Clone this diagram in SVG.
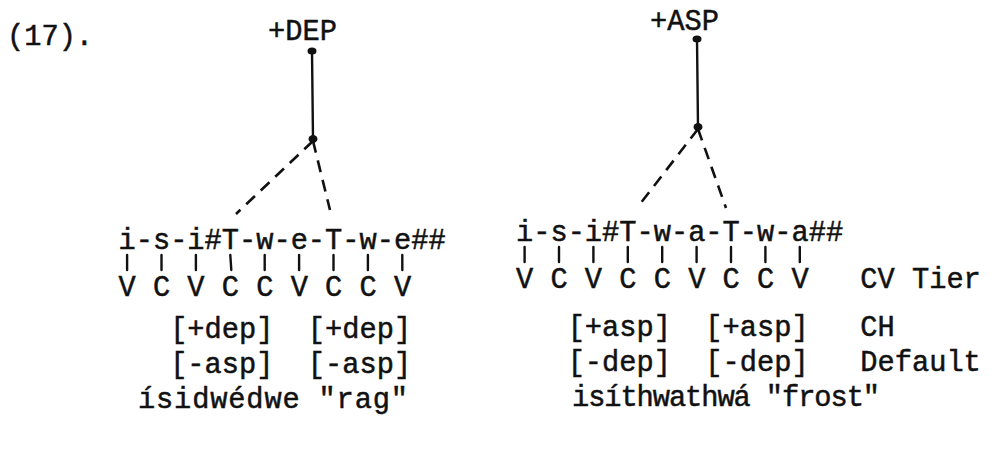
<svg xmlns="http://www.w3.org/2000/svg" width="998" height="464" viewBox="0 0 998 464">
<style>
text { font-family: "Liberation Mono", "DejaVu Sans Mono", monospace; font-size: 28.7px; fill: #111; stroke: #111; stroke-width: 0.5; white-space: pre; }
.ln { stroke: #111; stroke-width: 2.4; fill: none; stroke-linecap: round; }
.dash { stroke: #111; stroke-width: 2.6; fill: none; stroke-dasharray: 12 8; }
.dot { fill: #111; }
</style>
<rect width="998" height="464" fill="#fff"/>
<text id="label" x="7" y="45">(17).</text>

<g id="dep-tree">
  <g id="dep-root"><text x="268" y="40">+DEP</text></g>
  <g id="dep-top"><ellipse class="dot" cx="312" cy="51" rx="4.5" ry="3.5"/></g>
  <g id="dep-node"><ellipse class="dot" cx="313" cy="139" rx="4.5" ry="4"/></g>
  <g id="dep-segments"><text x="118.5" y="249">i-s-i#T-w-e-T-w-e##</text></g>
  <g id="dep-cv"><text x="118.5" y="296">V C V C C V C C V</text></g>
  <g id="dep-ch"><text x="118.5" y="338">   [+dep]  [+dep]</text></g>
  <g id="dep-default"><text x="118.5" y="373">   [-asp]  [-asp]</text></g>
  <g id="dep-gloss"><text x="138" y="408" textLength="270" lengthAdjust="spacing">ísidwédwe "rag"</text></g>
</g>

<g id="asp-tree">
  <g id="asp-root"><text x="650" y="30">+ASP</text></g>
  <g id="asp-top"><ellipse class="dot" cx="697" cy="39" rx="4.5" ry="3.5"/></g>
  <g id="asp-node"><ellipse class="dot" cx="698" cy="127" rx="4.5" ry="4"/></g>
  <g id="asp-segments"><text x="516" y="241">i-s-i#T-w-a-T-w-a##</text></g>
  <g id="asp-cv"><text x="516" y="288">V C V C C V C C V   CV Tier</text></g>
  <g id="asp-ch"><text x="516" y="336">   [+asp]  [+asp]   CH</text></g>
  <g id="asp-default"><text x="516" y="371">   [-dep]  [-dep]   Default</text></g>
  <g id="asp-gloss"><text x="572" y="406" textLength="308" lengthAdjust="spacing">isíthwathwá "frost"</text></g>
</g>

<g id="connectors">
  <line class="ln" x1="312" y1="51" x2="313" y2="139"/>
  <line class="dash" x1="313" y1="141" x2="236" y2="214"/>
  <line class="dash" x1="313" y1="141" x2="330" y2="210"/>
  <line class="ln" x1="697" y1="39" x2="698" y2="127"/>
  <line class="dash" x1="698" y1="129" x2="637" y2="208"/>
  <line class="dash" x1="698" y1="129" x2="726" y2="208"/>
  <g id="dep-assoc">
    <line class="ln" x1="127.1" y1="255" x2="127.1" y2="270"/>
    <line class="ln" x1="161.5" y1="255" x2="161.5" y2="270"/>
    <line class="ln" x1="195.9" y1="255" x2="195.9" y2="270"/>
    <line class="ln" x1="230.3" y1="255" x2="231.3" y2="270"/>
    <line class="ln" x1="264.7" y1="255" x2="264.7" y2="270"/>
    <line class="ln" x1="299.1" y1="255" x2="299.1" y2="270"/>
    <line class="ln" x1="333.5" y1="255" x2="333.5" y2="270"/>
    <line class="ln" x1="367.9" y1="255" x2="367.9" y2="270"/>
    <line class="ln" x1="402.3" y1="255" x2="402.3" y2="270"/>
  </g>
  <g id="asp-assoc">
    <line class="ln" x1="524.6" y1="247" x2="524.6" y2="262"/>
    <line class="ln" x1="559" y1="247" x2="559" y2="262"/>
    <line class="ln" x1="593.4" y1="247" x2="593.4" y2="262"/>
    <line class="ln" x1="627.8" y1="247" x2="627.8" y2="262"/>
    <line class="ln" x1="662.2" y1="247" x2="662.2" y2="262"/>
    <line class="ln" x1="696.6" y1="247" x2="696.6" y2="262"/>
    <line class="ln" x1="731" y1="247" x2="731" y2="262"/>
    <line class="ln" x1="765.4" y1="247" x2="765.4" y2="262"/>
    <line class="ln" x1="799.8" y1="247" x2="799.8" y2="262"/>
  </g>
</g>
</svg>
